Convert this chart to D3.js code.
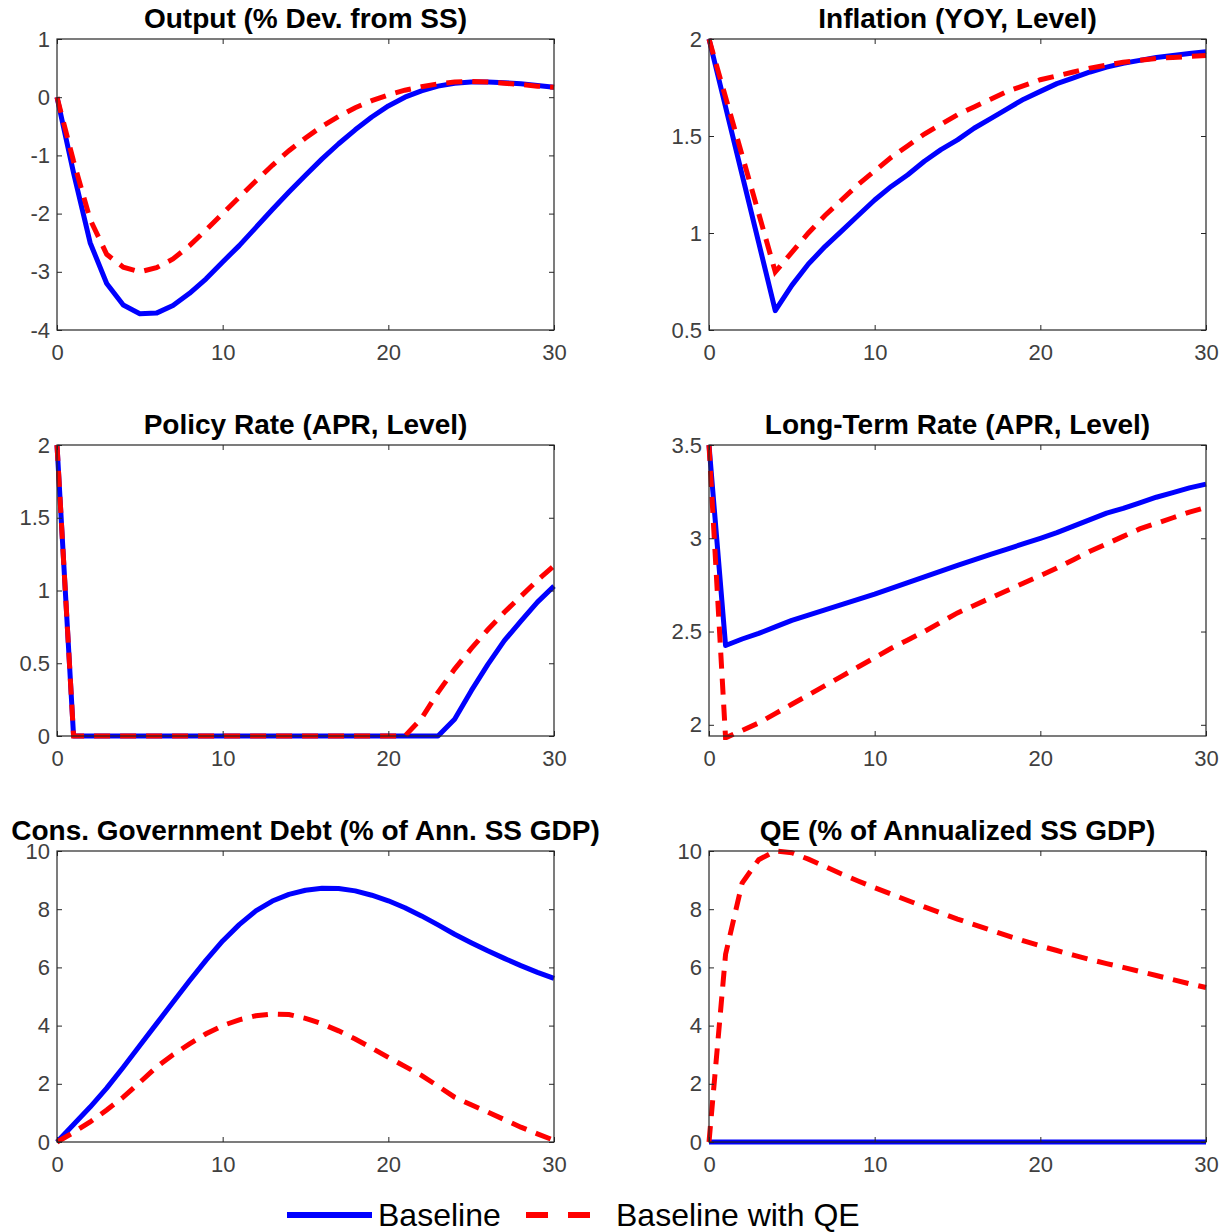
<!DOCTYPE html>
<html>
<head>
<meta charset="utf-8">
<script src="https://cdn.jsdelivr.net/npm/d3@7"></script>
<style>
  body { margin: 0; background: #fff; }
  svg { display: block; font-family: "Liberation Sans", Arial, sans-serif; }
</style>
</head>
<body>
<svg id="chart" width="1222" height="1232"></svg>
<script>
// quarters after the shock
const periods = [0,1,2,3,4,5,6,7,8,9,10,11,12,13,14,15,16,17,18,19,20,21,22,23,24,25,26,27,28,29,30];

// Output (% Dev. from SS)
const outputBase = [0,-1.3,-2.5,-3.2,-3.57,-3.72,-3.71,-3.58,-3.37,-3.12,-2.83,-2.55,-2.24,-1.93,-1.63,-1.34,-1.06,-0.8,-0.56,-0.34,-0.15,0.0,0.11,0.19,0.24,0.26,0.26,0.25,0.23,0.2,0.17];
const outputQE   = [0,-1.1,-2.1,-2.7,-2.92,-3.0,-2.93,-2.78,-2.55,-2.28,-2.0,-1.72,-1.44,-1.17,-0.92,-0.7,-0.5,-0.33,-0.18,-0.06,0.04,0.12,0.18,0.23,0.26,0.27,0.26,0.24,0.22,0.19,0.17];

// Inflation (YOY, Level)
const inflBase = [2.0,1.65,1.3,0.95,0.6,0.73,0.84,0.93,1.01,1.09,1.17,1.24,1.3,1.37,1.43,1.48,1.54,1.59,1.64,1.69,1.73,1.77,1.8,1.83,1.855,1.875,1.89,1.905,1.915,1.925,1.935];
const inflQE   = [2.0,1.7,1.4,1.1,0.8,0.9,1.0,1.09,1.17,1.25,1.32,1.39,1.45,1.51,1.56,1.61,1.65,1.69,1.73,1.76,1.79,1.81,1.83,1.85,1.865,1.88,1.89,1.9,1.905,1.91,1.915];

// Policy Rate (APR, Level)
const policyBase = [2,0,0,0,0,0,0,0,0,0,0,0,0,0,0,0,0,0,0,0,0,0,0,0,0.115,0.31,0.49,0.655,0.79,0.92,1.03];
const policyQE   = [2,0,0,0,0,0,0,0,0,0,0,0,0,0,0,0,0,0,0,0,0,0,0.12,0.3,0.46,0.6,0.73,0.85,0.96,1.07,1.17];

// Long-Term Rate (APR, Level)
const longBase = [3.5,2.425,2.46,2.49,2.525,2.56,2.588,2.616,2.644,2.672,2.7,2.731,2.762,2.793,2.824,2.855,2.884,2.913,2.942,2.971,3.0,3.03,3.065,3.1,3.135,3.16,3.19,3.22,3.245,3.27,3.29];
const longQE   = [3.5,1.93,1.97,2.01,2.06,2.11,2.16,2.21,2.26,2.31,2.36,2.41,2.455,2.5,2.55,2.6,2.64,2.68,2.72,2.76,2.8,2.84,2.885,2.93,2.97,3.01,3.05,3.08,3.11,3.14,3.165];

// Cons. Government Debt (% of Ann. SS GDP)
const debtBase = [0,0.6,1.2,1.85,2.57,3.32,4.06,4.8,5.54,6.25,6.91,7.47,7.94,8.28,8.51,8.65,8.72,8.71,8.63,8.48,8.29,8.05,7.77,7.46,7.14,6.85,6.57,6.31,6.06,5.83,5.62];
const debtQE   = [0,0.33,0.69,1.1,1.54,2.05,2.57,3.0,3.37,3.72,4.0,4.2,4.34,4.4,4.38,4.25,4.06,3.82,3.54,3.23,2.91,2.6,2.29,1.92,1.54,1.28,1.03,0.77,0.51,0.28,0.06];

// QE (% of Annualized SS GDP)
const qeBase = [0,0,0,0,0,0,0,0,0,0,0,0,0,0,0,0,0,0,0,0,0,0,0,0,0,0,0,0,0,0,0];
const qeQE   = [0,6.45,8.9,9.7,10.0,9.94,9.72,9.47,9.21,8.97,8.74,8.52,8.3,8.08,7.87,7.66,7.47,7.28,7.09,6.91,6.74,6.58,6.42,6.27,6.13,6.0,5.86,5.72,5.58,5.44,5.31];

const xTicks = [0, 10, 20, 30];
const seriesNames = ['Baseline', 'Baseline with QE'];

const panels = [
  { title: 'Output (% Dev. from SS)', domain: [-4, 1], ticks: [-4,-3,-2,-1,0,1], base: outputBase, qe: outputQE },
  { title: 'Inflation (YOY, Level)', domain: [0.5, 2], ticks: [0.5,1,1.5,2], base: inflBase, qe: inflQE },
  { title: 'Policy Rate (APR, Level)', domain: [0, 2], ticks: [0,0.5,1,1.5,2], base: policyBase, qe: policyQE },
  { title: 'Long-Term Rate (APR, Level)', domain: [1.94, 3.5], ticks: [2,2.5,3,3.5], base: longBase, qe: longQE },
  { title: 'Cons. Government Debt (% of Ann. SS GDP)', domain: [0, 10], ticks: [0,2,4,6,8,10], base: debtBase, qe: debtQE },
  { title: 'QE (% of Annualized SS GDP)', domain: [0, 10], ticks: [0,2,4,6,8,10], base: qeBase, qe: qeQE }
];

// layout
const cols = [57, 709], rows = [39, 445, 851];
const W = 497, H = 291;
const axisColor = '#262626', labelColor = '#404040';
const blue = '#0000ff', red = '#ff0000';

const svg = d3.select('#chart');

panels.forEach((p, i) => {
  const g = svg.append('g')
    .attr('transform', `translate(${cols[i % 2]},${rows[Math.floor(i / 2)]})`);

  const x = d3.scaleLinear().domain([0, 30]).range([0, W]);
  const y = d3.scaleLinear().domain(p.domain).range([H, 0]);

  const clipId = 'clip' + i;
  g.append('clipPath').attr('id', clipId)
    .append('rect').attr('x', -4).attr('y', -4).attr('width', W + 8).attr('height', H + 8);

  const line = d3.line().x((d, k) => x(periods[k])).y(d => y(d));

  const lines = g.append('g').attr('clip-path', `url(#${clipId})`);
  lines.append('path').datum(p.base)
    .attr('d', line).attr('fill', 'none')
    .attr('stroke', blue).attr('stroke-width', 5)
    .attr('stroke-linejoin', 'round');
  lines.append('path').datum(p.qe)
    .attr('d', line).attr('fill', 'none')
    .attr('stroke', red).attr('stroke-width', 5)
    .attr('stroke-dasharray', '16,10');

  const fmt = d => String(d);

  // axes with inward ticks (matlab style)
  const left = g.append('g')
    .call(d3.axisLeft(y).tickValues(p.ticks).tickFormat(fmt).tickSize(-5).tickPadding(7));
  const bottom = g.append('g').attr('transform', `translate(0,${H})`)
    .call(d3.axisBottom(x).tickValues(xTicks).tickFormat(fmt).tickSize(-5).tickPadding(14));
  const right = g.append('g').attr('transform', `translate(${W},0)`)
    .call(d3.axisRight(y).tickValues(p.ticks).tickFormat('').tickSize(-5));
  const top = g.append('g')
    .call(d3.axisTop(x).tickValues(xTicks).tickFormat('').tickSize(-5));

  [left, bottom, right, top].forEach(a => {
    a.select('.domain').remove();
    a.selectAll('line').attr('stroke', axisColor);
    a.selectAll('text')
      .attr('fill', labelColor)
      .style('font-size', '22px')
      .style('font-family', '"Liberation Sans", Arial, sans-serif');
  });

  g.append('rect')
    .attr('width', W).attr('height', H)
    .attr('fill', 'none').attr('stroke', axisColor).attr('stroke-width', 1.2);

  g.append('text')
    .attr('x', W / 2).attr('y', -11)
    .attr('text-anchor', 'middle')
    .style('font-size', '28px').style('font-weight', 'bold')
    .attr('fill', '#000')
    .text(p.title);
});

// legend
const lg = svg.append('g');
lg.append('line')
  .attr('x1', 287).attr('x2', 372).attr('y1', 1215).attr('y2', 1215)
  .attr('stroke', blue).attr('stroke-width', 6);
lg.append('text').attr('x', 378).attr('y', 1226)
  .style('font-size', '32px').attr('fill', '#000').text(seriesNames[0]);
lg.append('line')
  .attr('x1', 526).attr('x2', 592).attr('y1', 1215).attr('y2', 1215)
  .attr('stroke', red).attr('stroke-width', 6)
  .attr('stroke-dasharray', '22,20');
lg.append('text').attr('x', 616).attr('y', 1226)
  .style('font-size', '32px').attr('fill', '#000').text(seriesNames[1]);
</script>
</body>
</html>
